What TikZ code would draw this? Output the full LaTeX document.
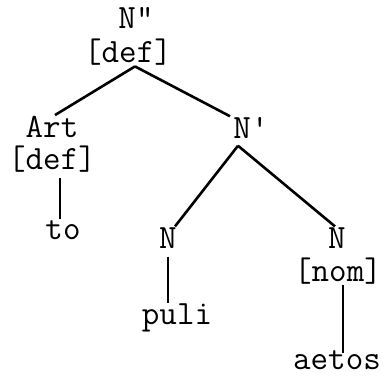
\documentclass[tikz,border=0pt]{standalone}
\usepackage{fontspec}
\setmonofont{Latin Modern Mono}
\usetikzlibrary{positioning}

\begin{document}
\begin{tikzpicture}[x=1pt,y=-1pt,
    lbl/.style={font=\ttfamily\fontsize{34}{36}\selectfont, inner sep=1pt},
    branch/.style={line width=2.6pt}]

\useasboundingbox (0,0) rectangle (383,378);

% labels
\node[lbl] (top)  at (136,18)  {N"};
\node[lbl] (topf) at (128,52)  {[def]};
\node[lbl] (art)  at (52,127)  {Art};
\node[lbl] (artf) at (52,159)  {[def]};
\node[lbl] (nbar) at (251,128) {N'};
\node[lbl] (to)   at (63,230)  {to};
\node[lbl] (nl)   at (168,238) {N};
\node[lbl] (nr)   at (337,238) {N};
\node[lbl] (nrf)  at (338,271) {[nom]};
\node[lbl] (puli) at (177,318) {puli};
\node[lbl] (aetos) at (337,360) {aetos};

% branches
\draw[branch] ([xshift=7pt]topf.south) -- ([xshift=3pt]art.north);
\draw[branch] ([xshift=7pt]topf.south) -- ([xshift=-21pt]nbar.north);
\draw[branch] ([xshift=8pt,yshift=-5pt]artf.south) -- ([xshift=-3pt]to.north);
\draw[branch] ([xshift=-13pt,yshift=-6pt]nbar.south) -- ([xshift=7pt]nl.north);
\draw[branch] ([xshift=-13pt,yshift=-6pt]nbar.south) -- ([xshift=-2pt]nr.north);
\draw[branch] ([yshift=-7pt]nl.south) -- ([xshift=-9pt]puli.north);
\draw[branch] ([xshift=5pt]nrf.south) -- ([xshift=6pt,yshift=-4pt]aetos.north);

\end{tikzpicture}
\end{document}
